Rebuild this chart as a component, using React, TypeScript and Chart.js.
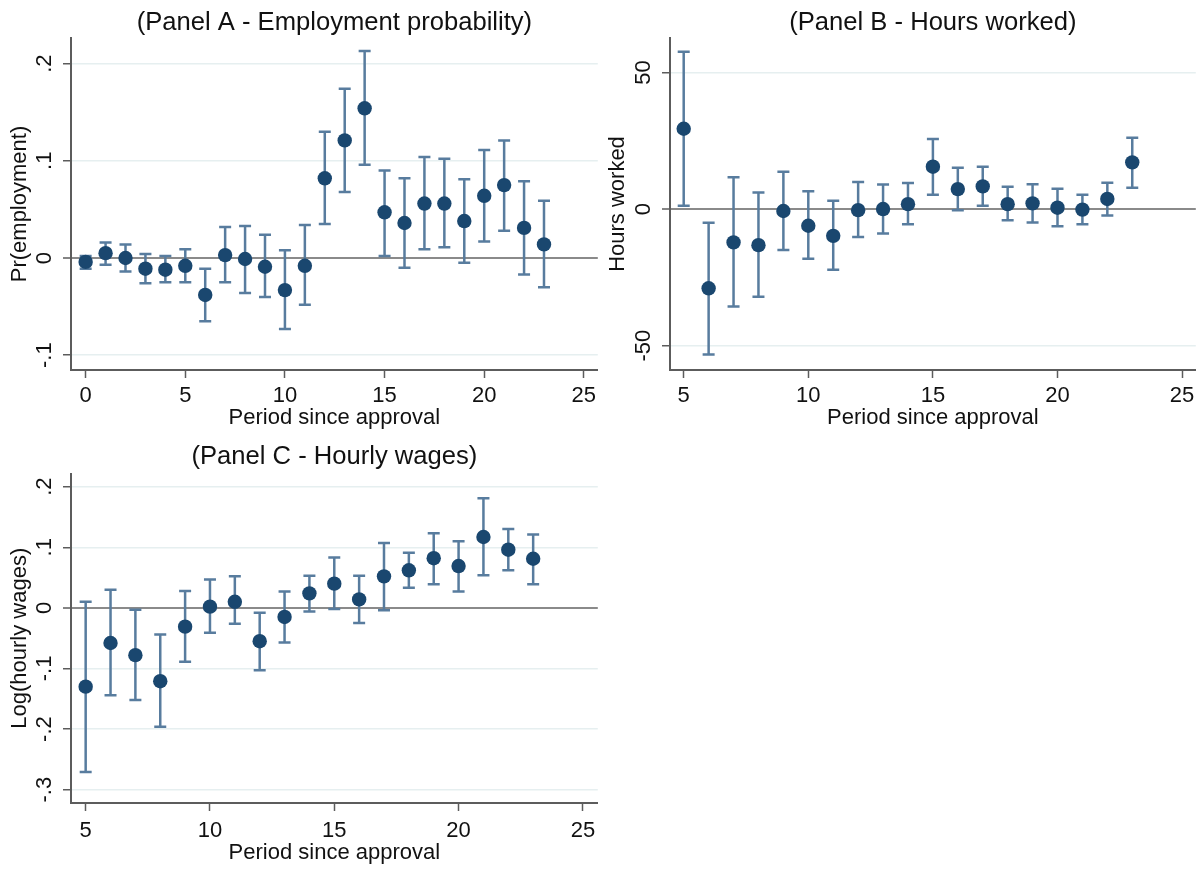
import { useEffect, useRef } from "react"
import { Chart, registerables } from "chart.js"

Chart.register(...registerables)

Chart.defaults.font.family = "'Liberation Sans', Arial, sans-serif"
Chart.defaults.color = "#111111"

// Panel A - Employment probability
const periodsA = [0, 1, 2, 3, 4, 5, 6, 7, 8, 9, 10, 11, 12, 13, 14, 15, 16, 17, 18, 19, 20, 21, 22, 23]
const estA = [-0.004, 0.005, 0.0, -0.011, -0.012, -0.008, -0.038, 0.003, -0.001, -0.009, -0.033, -0.008, 0.082, 0.121, 0.154, 0.047, 0.036, 0.056, 0.056, 0.038, 0.064, 0.075, 0.031, 0.014]
const highA = [0.002, 0.016, 0.014, 0.004, 0.002, 0.009, -0.011, 0.032, 0.033, 0.024, 0.008, 0.034, 0.13, 0.174, 0.213, 0.09, 0.082, 0.104, 0.102, 0.081, 0.111, 0.121, 0.079, 0.059]
const lowA = [-0.011, -0.007, -0.014, -0.026, -0.025, -0.025, -0.065, -0.025, -0.036, -0.04, -0.073, -0.048, 0.035, 0.068, 0.096, 0.002, -0.01, 0.009, 0.011, -0.005, 0.017, 0.028, -0.017, -0.03]
const xTicksA = [0, 5, 10, 15, 20, 25]
const yTicksA = [-0.1, 0, 0.1, 0.2]

// Panel B - Hours worked
const periodsB = [5, 6, 7, 8, 9, 10, 11, 12, 13, 14, 15, 16, 17, 18, 19, 20, 21, 22, 23]
const estB = [29.4, -29, -12.2, -13.2, -0.7, -6.1, -9.8, -0.4, 0, 1.8, 15.5, 7.3, 8.3, 1.8, 2.1, 0.5, -0.2, 3.7, 17.1]
const highB = [57.6, -5, 11.6, 6.1, 13.7, 6.5, 3, 9.9, 9, 9.5, 25.6, 15.1, 15.5, 8.2, 9.1, 7.4, 5.2, 9.6, 26.1]
const lowB = [1.2, -53.2, -35.7, -32.1, -15, -18.2, -22.2, -10.2, -8.9, -5.6, 5.2, -0.4, 1.2, -4.1, -4.9, -6.3, -5.6, -2.4, 7.8]
const xTicksB = [5, 10, 15, 20, 25]
const yTicksB = [-50, 0, 50]

// Panel C - Hourly wages
const periodsC = [5, 6, 7, 8, 9, 10, 11, 12, 13, 14, 15, 16, 17, 18, 19, 20, 21, 22, 23]
const estC = [-0.13, -0.058, -0.078, -0.121, -0.031, 0.002, 0.01, -0.055, -0.015, 0.024, 0.04, 0.014, 0.052, 0.062, 0.082, 0.069, 0.117, 0.096, 0.081]
const highC = [0.01, 0.03, -0.003, -0.044, 0.028, 0.047, 0.052, -0.008, 0.027, 0.053, 0.083, 0.053, 0.107, 0.091, 0.123, 0.11, 0.181, 0.13, 0.121]
const lowC = [-0.271, -0.144, -0.152, -0.196, -0.089, -0.041, -0.026, -0.103, -0.057, -0.006, -0.002, -0.025, -0.004, 0.033, 0.039, 0.027, 0.054, 0.062, 0.039]
const xTicksC = [5, 10, 15, 20, 25]
const yTicksC = [-0.3, -0.2, -0.1, 0, 0.1, 0.2]

const DOT = "#1a476f"
const BAR = "#587c9e"
const AXIS = "#5c5c5c"
const GRID = "#e6eff0"
const ZERO = "#8a8a8a"

// stata style: .2 instead of 0.2
const fmt = (v: number) => String(Math.round(v * 1000) / 1000).replace(/^(-?)0\./, "$1.")

// vertical ci caps drawn under the dots
const errorBars = {
  id: "errorBars",
  beforeDatasetsDraw(chart: any, _args: any, opts: any) {
    const { ctx, scales } = chart
    const x = scales.x
    const y = scales.y
    ctx.save()
    ctx.strokeStyle = BAR
    ctx.lineWidth = 2.5
    opts.periods.forEach((p: number, i: number) => {
      const px = x.getPixelForValue(p)
      const top = y.getPixelForValue(opts.high[i])
      const bot = y.getPixelForValue(opts.low[i])
      ctx.beginPath()
      ctx.moveTo(px, top)
      ctx.lineTo(px, bot)
      ctx.moveTo(px - 6, top)
      ctx.lineTo(px + 6, top)
      ctx.moveTo(px - 6, bot)
      ctx.lineTo(px + 6, bot)
      ctx.stroke()
    })
    ctx.restore()
  },
}

type PanelProps = {
  left: number
  top: number
  width: number
  height: number
  title: string
  yTitle: string
  periods: number[]
  est: number[]
  low: number[]
  high: number[]
  xMin: number
  xMax: number
  yMin: number
  yMax: number
  xTicks: number[]
  yTicks: number[]
  yAxisWidth: number
  xAxisHeight: number
  titleTop: number
  titleBottom: number
  yTickPad: number
  yTitlePad: number
  xTickPad: number
  xTitlePad: number
}

function Panel(props: PanelProps) {
  const chartRef = useRef<HTMLCanvasElement>(null)
  const chartInstance = useRef<Chart | null>(null)

  useEffect(() => {
    if (!chartRef.current) return
    if (chartInstance.current) chartInstance.current.destroy()
    const ctx = chartRef.current.getContext("2d")
    if (!ctx) return

    chartInstance.current = new Chart(ctx, {
      type: "scatter",
      data: {
        datasets: [
          {
            data: props.periods.map((p, i) => ({ x: p, y: props.est[i] })),
            backgroundColor: DOT,
            borderWidth: 0,
            pointRadius: 7.2,
          },
        ],
      },
      plugins: [errorBars],
      options: {
        responsive: true,
        maintainAspectRatio: false,
        animation: false,
        events: [],
        layout: { padding: { left: 0, right: 5, top: 0, bottom: 0 } },
        scales: {
          x: {
            type: "linear",
            min: props.xMin,
            max: props.xMax,
            afterBuildTicks: (s: any) => {
              s.ticks = props.xTicks.map((v) => ({ value: v }))
            },
            afterFit: (s: any) => {
              s.height = props.xAxisHeight
            },
            ticks: { font: { size: 22 }, color: "#111", padding: props.xTickPad, maxRotation: 0 },
            grid: { drawOnChartArea: false, tickLength: 8, tickColor: AXIS, tickWidth: 1.5 },
            border: { color: AXIS, width: 2 },
            title: {
              display: true,
              text: "Period since approval",
              font: { size: 22 },
              color: "#111",
              padding: { top: 0, bottom: props.xTitlePad },
            },
          },
          y: {
            type: "linear",
            min: props.yMin,
            max: props.yMax,
            afterBuildTicks: (s: any) => {
              s.ticks = props.yTicks.map((v) => ({ value: v }))
            },
            afterFit: (s: any) => {
              s.width = props.yAxisWidth
            },
            ticks: {
              font: { size: 22 },
              color: "#111",
              minRotation: 90,
              maxRotation: 90,
              crossAlign: "center",
              padding: props.yTickPad,
              callback: (v: any) => fmt(Number(v)),
            },
            grid: {
              color: (c: any) => (c.tick && c.tick.value === 0 ? ZERO : GRID),
              lineWidth: (c: any) => (c.tick && c.tick.value === 0 ? 2 : 1.5),
              tickLength: 8,
              tickColor: AXIS,
              tickWidth: 1.5,
            },
            border: { color: AXIS, width: 2 },
            title: {
              display: true,
              text: props.yTitle,
              font: { size: 22 },
              color: "#111",
              padding: { top: props.yTitlePad, bottom: 0 },
            },
          },
        },
        plugins: {
          legend: { display: false },
          tooltip: { enabled: false },
          title: {
            display: true,
            text: props.title,
            fullSize: false,
            font: { size: 25.6, weight: "normal" },
            color: "#111",
            padding: { top: props.titleTop, bottom: props.titleBottom },
          },
          errorBars: { periods: props.periods, low: props.low, high: props.high },
        } as any,
      },
    })

    return () => {
      if (chartInstance.current) {
        chartInstance.current.destroy()
        chartInstance.current = null
      }
    }
  }, [])

  return (
    <div
      style={{
        position: "absolute",
        left: props.left,
        top: props.top,
        width: props.width,
        height: props.height,
      }}
    >
      <canvas ref={chartRef} />
    </div>
  )
}

export default function App() {
  return (
    <div style={{ position: "absolute", left: 0, top: 0, width: 1203, height: 873, background: "#ffffff" }}>
      <Panel
        left={0}
        top={0}
        width={605}
        height={435}
        title="(Panel A - Employment probability)"
        yTitle="Pr(employment)"
        periods={periodsA}
        est={estA}
        low={lowA}
        high={highA}
        xMin={-0.735}
        xMax={25.7}
        yMin={-0.1152}
        yMax={0.2263}
        xTicks={xTicksA}
        yTicks={yTicksA}
        yAxisWidth={71}
        xAxisHeight={65}
        titleTop={7.3}
        titleBottom={0}
        yTickPad={5}
        yTitlePad={7}
        xTickPad={5}
        xTitlePad={4}
      />
      <Panel
        left={600}
        top={0}
        width={603}
        height={435}
        title="(Panel B - Hours worked)"
        yTitle="Hours worked"
        periods={periodsB}
        est={estB}
        low={lowB}
        high={highB}
        xMin={4.45}
        xMax={25.55}
        yMin={-58.9}
        yMax={62.6}
        xTicks={xTicksB}
        yTicks={yTicksB}
        yAxisWidth={70}
        xAxisHeight={65}
        titleTop={7.3}
        titleBottom={0}
        yTickPad={2}
        yTitlePad={5}
        xTickPad={5}
        xTitlePad={4}
      />
      <Panel
        left={0}
        top={435}
        width={605}
        height={438}
        title="(Panel C - Hourly wages)"
        yTitle="Log(hourly wages)"
        periods={periodsC}
        est={estC}
        low={lowC}
        high={highC}
        xMin={4.41}
        xMax={25.6}
        yMin={-0.322}
        yMax={0.2217}
        xTicks={xTicksC}
        yTicks={yTicksC}
        yAxisWidth={71}
        xAxisHeight={70}
        titleTop={7}
        titleBottom={0.8}
        yTickPad={5}
        yTitlePad={7}
        xTickPad={7}
        xTitlePad={7}
      />
    </div>
  )
}
